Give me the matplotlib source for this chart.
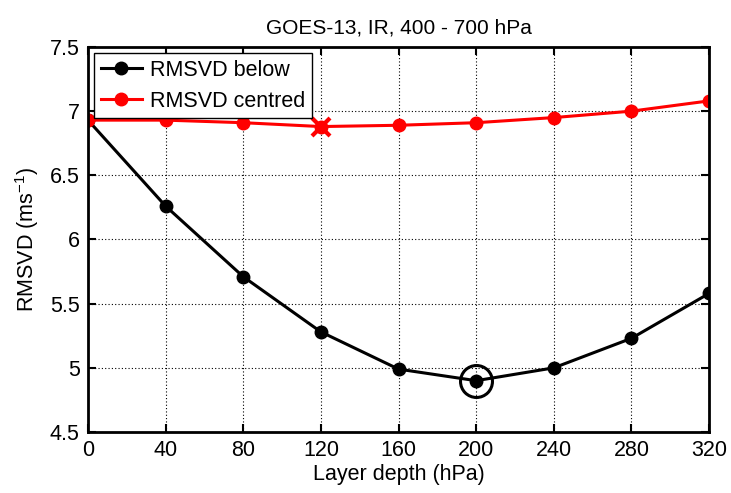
import matplotlib
matplotlib.use("Agg")
import matplotlib.pyplot as plt

plt.rcParams['font.family'] = ['Liberation Sans', 'DejaVu Sans']

depth = [0, 40, 80, 120, 160, 200, 240, 280, 320]
rmsvd_below = [6.93, 6.26, 5.71, 5.28, 4.99, 4.90, 5.00, 5.23, 5.58]
rmsvd_centred = [6.93, 6.93, 6.91, 6.88, 6.89, 6.91, 6.95, 7.00, 7.08]
min_below = (200, 4.90)
min_centred = (120, 6.88)

fig = plt.figure(figsize=(7.31, 4.93), dpi=100)
ax = fig.add_axes([0.1204, 0.1237, 0.8496, 0.781])

ax.plot(depth, rmsvd_below, '-o', color='k', lw=2.2, ms=9, label='RMSVD below')
ax.plot(depth, rmsvd_centred, '-o', color='r', lw=2.2, ms=9, label='RMSVD centred')
ax.plot(*min_below, 'o', mfc='none', mec='k', ms=23, mew=2.2)
ax.plot(*min_centred, 'x', color='r', ms=13, mew=3)

ax.set_xlim(0, 320)
ax.set_ylim(4.5, 7.5)
ax.set_xticks(depth)
ax.set_yticks([4.5, 5, 5.5, 6, 6.5, 7, 7.5])
ax.set_yticklabels(['4.5', '5', '5.5', '6', '6.5', '7', '7.5'])
ax.grid(True, linestyle=(0, (1, 2)), color='k', lw=0.8)
ax.tick_params(direction='in', top=True, right=True, length=6, width=1.5, labelsize=15.5, pad=6)
for s in ax.spines.values():
    s.set_linewidth(2)

ax.set_xlabel('Layer depth (hPa)', fontsize=15.5, labelpad=2)
ax.set_ylabel('RMSVD (ms$^{\\mathregular{-1}}$)', fontsize=15.5, labelpad=6)
ax.set_title('GOES-13, IR, 400 - 700 hPa', fontsize=15, pad=10)

leg = ax.legend(loc='upper left', fontsize=15.5, fancybox=False, framealpha=1,
                edgecolor='k', borderaxespad=0.3, handlelength=1.9, borderpad=0.3,
                labelspacing=0.45, handletextpad=0.4)
leg.get_frame().set_linewidth(1)

fig.savefig('out.png', dpi=100)
